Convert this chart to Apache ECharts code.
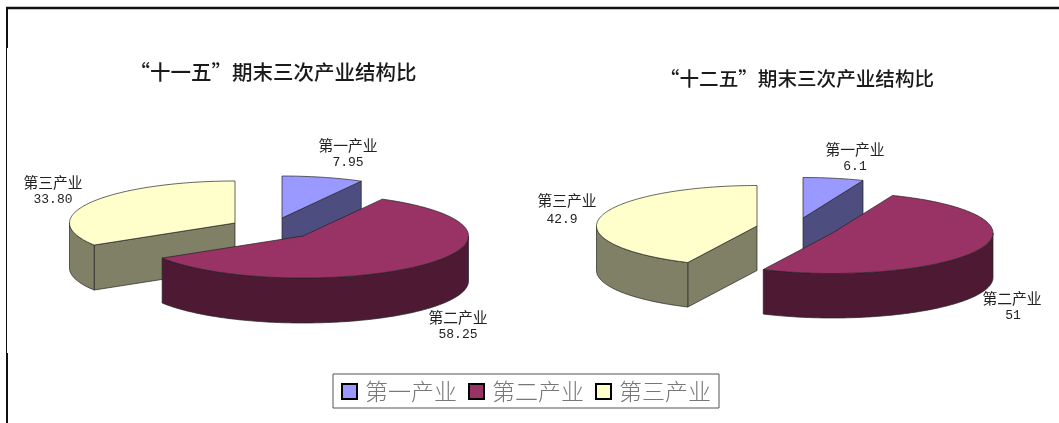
<!DOCTYPE html>
<html><head><meta charset="utf-8">
<style>html,body{margin:0;padding:0;background:#fff;overflow:hidden}#c{width:1059px;height:423px}</style>
<script src="https://cdn.jsdelivr.net/npm/echarts@6/dist/echarts.min.js"></script>
</head><body><div id="c"></div>
<script>
const categories = ['第一产业', '第二产业', '第三产业'];
const periods = ['“十一五”期末三次产业结构比', '“十二五”期末三次产业结构比'];
const primary = [7.95, 6.1];
const secondary = [58.25, 51];
const tertiary = [33.80, 42.9];
const primaryText = ['7.95', '6.1'];
const secondaryText = ['58.25', '51'];
const tertiaryText = ['33.80', '42.9'];

const colors = ['#9999FF', '#993366', '#FFFFCC'];
const wallColors = ['#4D4D80', '#4D1933', '#808066'];
const rows = [primary, secondary, tertiary];
const rowText = [primaryText, secondaryText, tertiaryText];

// exploded-pie layout: centre of each slice for each pie
const layouts = [
  { rx: 165.5, ry: 42, depth: 45, centers: [[282, 218], [303, 236], [235, 223]],
    labels: [[348, 145, 348, 163], [458, 317, 458, 335], [53, 182, 53, 200]] },
  { rx: 160.5, ry: 40.5, depth: 44.5, centers: [[803, 218], [832.5, 233], [757, 226]],
    labels: [[855, 149, 855, 167], [1012, 298, 1013, 316], [567, 200, 562, 220]] }
];
const FONT_CJK = '"Noto Sans CJK SC"';
const FONT_NUM = '"Liberation Mono"';

function sliceAngles(pie, cat) {
  const total = rows.reduce((s, r) => s + r[pie], 0);
  let sum = 0;
  for (let i = 0; i < cat; i++) sum += rows[i][pie];
  return [sum / total * Math.PI * 2, (sum + rows[cat][pie]) / total * Math.PI * 2];
}
function arcPts(c, rx, ry, a0, a1, dy) {
  const n = Math.max(2, Math.ceil((a1 - a0) / 0.02));
  const pts = [];
  for (let i = 0; i <= n; i++) {
    const a = a0 + (a1 - a0) * i / n;
    pts.push([c[0] + rx * Math.sin(a), c[1] - ry * Math.cos(a) + dy]);
  }
  return pts;
}
function renderSlice(cat, params) {
  const pie = params.dataIndex;
  const L = layouts[pie];
  const c = L.centers[cat];
  const [a0, a1] = sliceAngles(pie, cat);
  const stroke = { stroke: '#222', lineWidth: 0.7, lineJoin: 'round' };
  const wall = { fill: wallColors[cat], ...stroke };
  const kids = [];
  const radial = (a) => {
    const p = [c[0] + L.rx * Math.sin(a), c[1] - L.ry * Math.cos(a)];
    kids.push({ type: 'polygon', shape: { points: [c, p, [p[0], p[1] + L.depth], [c[0], c[1] + L.depth]] }, style: wall });
  };
  if (Math.sin(a0) < -1e-6) radial(a0);
  if (Math.sin(a1) > 1e-6) radial(a1);
  // front outer wall: only the part of the rim nearest the viewer
  const f0 = Math.max(a0, Math.PI / 2), f1 = Math.min(a1, Math.PI * 1.5);
  if (f1 > f0) {
    const top = arcPts(c, L.rx, L.ry, f0, f1, 0);
    const bot = arcPts(c, L.rx, L.ry, f0, f1, L.depth).reverse();
    kids.push({ type: 'polygon', shape: { points: top.concat(bot) }, style: wall });
  }
  kids.push({ type: 'polygon', shape: { points: [c].concat(arcPts(c, L.rx, L.ry, a0, a1, 0)) },
    style: { fill: colors[cat], ...stroke } });
  const lb = L.labels[cat];
  kids.push({ type: 'text', x: lb[0], y: lb[1], z2: 50, style: { text: categories[cat], x: 0, y: 0, align: 'center', verticalAlign: 'middle',
    fontFamily: FONT_CJK, fontSize: 14.8, fill: '#222' } });
  kids.push({ type: 'text', x: lb[2], y: lb[3], z2: 50, style: { text: rowText[cat][pie], x: 0, y: 0, align: 'center', verticalAlign: 'middle',
    fontFamily: FONT_NUM, fontSize: 13, fill: '#222' } });
  return { type: 'group', children: kids };
}

const drawOrder = [2, 0, 1];
const series = drawOrder.map((cat, i) => ({
  type: 'custom',
  name: categories[cat],
  coordinateSystem: 'none',
  z: 2 + i,
  silent: true,
  animation: false,
  itemStyle: { color: colors[cat] },
  data: rows[cat],
  renderItem: (params) => renderSlice(cat, params)
}));

const chart = echarts.init(document.getElementById('c'), null, { renderer: 'canvas' });
chart.setOption({
  animation: false,
  backgroundColor: '#fff',
  title: [
    { text: periods[0], left: 273, top: 60, textAlign: 'center', padding: 0,
      textStyle: { fontFamily: FONT_CJK, fontSize: 20.5, fontWeight: 500, color: '#1a1a1a', lineHeight: 24 } },
    { text: periods[1], left: 797, top: 67, textAlign: 'center', padding: 0,
      textStyle: { fontFamily: FONT_CJK, fontSize: 19.6, fontWeight: 500, color: '#1a1a1a', lineHeight: 24 } }
  ],
  legend: {
    data: categories, left: 333, top: 374, orient: 'horizontal', icon: 'rect',
    itemWidth: 15, itemHeight: 15, itemGap: 11,
    padding: [6, 8, 5, 8],
    borderColor: '#555', borderWidth: 1, backgroundColor: '#fff',
    itemStyle: { borderColor: '#000', borderWidth: 2 },
    textStyle: { fontFamily: FONT_CJK, fontSize: 23, fontWeight: 300, color: '#777', padding: [0, 0, 0, 3] },
    selectedMode: false
  },
  graphic: [
    { type: 'line', silent: true, shape: { x1: 6, y1: 8, x2: 1059, y2: 8 }, style: { stroke: '#111', lineWidth: 2.5 } },
    { type: 'line', silent: true, shape: { x1: 7, y1: 8, x2: 7, y2: 48 }, style: { stroke: '#111', lineWidth: 2 } },
    { type: 'line', silent: true, shape: { x1: 6.5, y1: 48, x2: 6.5, y2: 353 }, style: { stroke: '#111', lineWidth: 1 } },
    { type: 'line', silent: true, shape: { x1: 7, y1: 353, x2: 7, y2: 423 }, style: { stroke: '#111', lineWidth: 2 } }
  ],
  series
});
</script></body></html>
